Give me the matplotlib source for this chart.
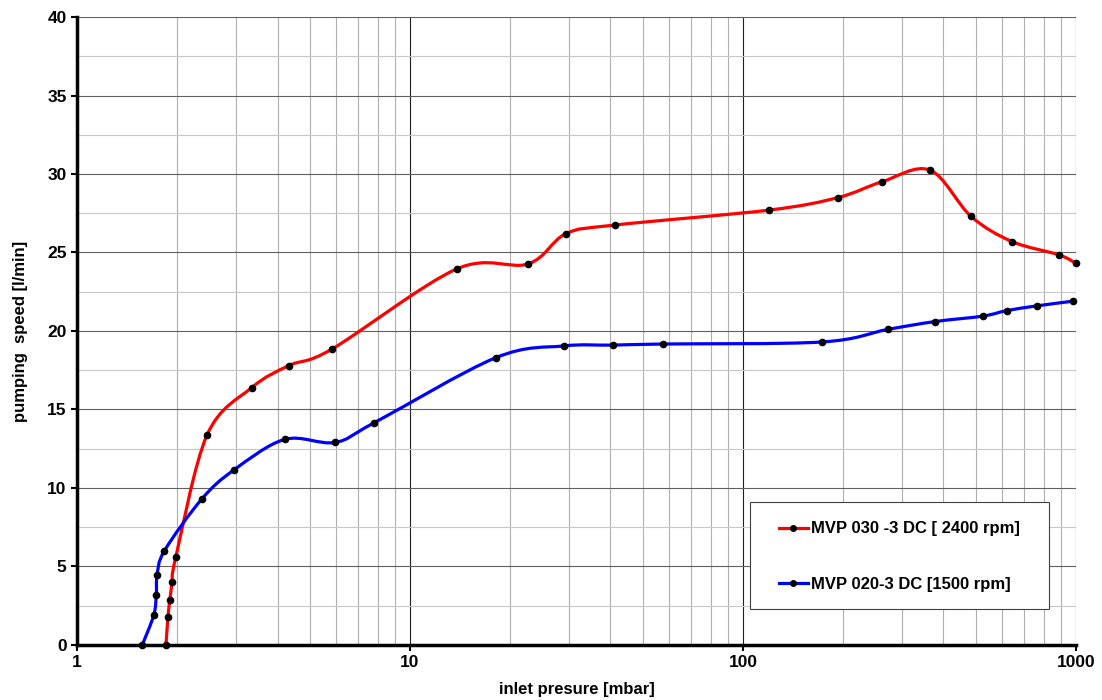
import numpy as np
import matplotlib
matplotlib.use('Agg')
import matplotlib.pyplot as plt
from matplotlib.path import Path
from matplotlib.patches import PathPatch, Rectangle
from matplotlib.lines import Line2D
from matplotlib.ticker import FixedLocator, NullFormatter

plt.rcParams['font.family'] = ['Liberation Sans', 'DejaVu Sans']

# datos
p_030 = [1.85, 1.875, 1.90, 1.93, 1.98, 2.46, 3.35, 4.33, 5.83, 13.8, 22.6, 29.4,
         41.3, 119.7, 193, 261, 364, 484, 642, 889, 1000]
s_030 = [0.0, 1.78, 2.87, 4.0, 5.6, 13.4, 16.4, 17.8, 18.85, 23.95, 24.27, 26.2,
         26.75, 27.7, 28.5, 29.5, 30.25, 27.3, 25.7, 24.85, 24.3]

p_020 = [1.57, 1.70, 1.73, 1.74, 1.83, 2.37, 2.96, 4.21, 5.95, 7.8, 18.1, 29.0,
         40.7, 57.5, 172.7, 272, 377, 526, 620, 763, 979]
s_020 = [0.0, 1.9, 3.2, 4.45, 6.0, 9.3, 11.15, 13.1, 12.9, 14.15, 18.3, 19.05,
         19.1, 19.17, 19.3, 20.1, 20.6, 20.95, 21.3, 21.6, 21.9]

etiquetas = ['MVP 030 -3 DC [ 2400 rpm]', 'MVP 020-3 DC [1500 rpm]']
colores = ['#ff0000', '#0000ff']


# linea suavizada tipo Excel (Bezier en coordenadas de pantalla)
def curva_suave(ax, x, y, color):
    lx = np.log10(x) * 333.0
    ly = np.array(y) * 15.7
    n = len(lx)
    verts = [(x[0], y[0])]
    codes = [Path.MOVETO]
    for i in range(n - 1):
        a = max(i - 1, 0)
        b = min(i + 2, n - 1)
        c1 = (lx[i] + (lx[i + 1] - lx[a]) / 6, ly[i] + (ly[i + 1] - ly[a]) / 6)
        c2 = (lx[i + 1] - (lx[b] - lx[i]) / 6, ly[i + 1] - (ly[b] - ly[i]) / 6)
        verts += [(10 ** (c1[0] / 333.0), c1[1] / 15.7),
                  (10 ** (c2[0] / 333.0), c2[1] / 15.7),
                  (x[i + 1], y[i + 1])]
        codes += [Path.CURVE4] * 3
    ax.add_patch(PathPatch(Path(verts, codes), facecolor='none', edgecolor=color,
                           lw=2.3, zorder=3, clip_on=False))


fig = plt.figure(figsize=(11.02, 7.0), dpi=100)
ax = fig.add_axes([0.0699, 0.0786, 0.9065, 0.8971])
ax.set_xscale('log')
ax.set_xlim(1, 1000)
ax.set_ylim(0, 40)

# rejilla
ax.xaxis.set_major_locator(FixedLocator([1, 10, 100, 1000]))
menores = [m * d for d in (1, 10, 100) for m in range(2, 10)]
ax.xaxis.set_minor_locator(FixedLocator(menores))
ax.xaxis.set_minor_formatter(NullFormatter())
ax.set_yticks(np.arange(0, 41, 5))
ax.set_yticks(np.arange(2.5, 40, 5), minor=True)
ax.grid(True, which='major', axis='x', color='#202020', lw=0.8)
ax.grid(True, which='minor', axis='x', color='#b0b0b0', lw=0.8)
ax.grid(True, which='major', axis='y', color='#606060', lw=0.8)
ax.grid(True, which='minor', axis='y', color='#c8c8c8', lw=0.8)
ax.set_axisbelow(True)

ax.set_xticklabels(['1', '10', '100', '1000'])
ax.tick_params(axis='both', which='major', labelsize=12.5, width=1.5, length=4,
               direction='out')
ax.tick_params(axis='x', which='minor', length=0)
ax.tick_params(axis='y', which='minor', length=0)
for t in ax.get_xticklabels() + ax.get_yticklabels():
    t.set_fontweight('bold')

for lado in ['top', 'right']:
    ax.spines[lado].set_visible(False)
ax.spines['left'].set_linewidth(2.5)
ax.spines['bottom'].set_linewidth(2.5)

# curvas
curva_suave(ax, p_030, s_030, colores[0])
curva_suave(ax, p_020, s_020, colores[1])
ax.plot(p_030, s_030, 'o', color='black', ms=4.5, zorder=4, clip_on=False)
ax.plot(p_020, s_020, 'o', color='black', ms=4.5, zorder=4, clip_on=False)

ax.set_xlabel('inlet presure [mbar]', fontsize=12, fontweight='bold', labelpad=8)
ax.set_ylabel('pumping  speed [l/min]', fontsize=12, fontweight='bold', labelpad=14)

# leyenda: marco dibujado aparte
ax.add_patch(Rectangle((0.6737, 0.0573), 0.2993, 0.1704, transform=ax.transAxes,
                       facecolor='white', edgecolor='#404040', lw=0.8, zorder=5))
manejadores = [Line2D([], [], color=c, lw=2.3, marker='o', ms=4, mfc='black',
                      mec='black') for c in colores]
leg = ax.legend(manejadores, etiquetas, loc='center',
                bbox_to_anchor=(0.8233, 0.1405), prop={'weight': 'bold', 'size': 12},
                frameon=False, labelspacing=2.45, handlelength=1.75,
                handletextpad=0.2, borderpad=0, borderaxespad=0)
leg.set_zorder(6)

plt.savefig('out.png', dpi=100)
